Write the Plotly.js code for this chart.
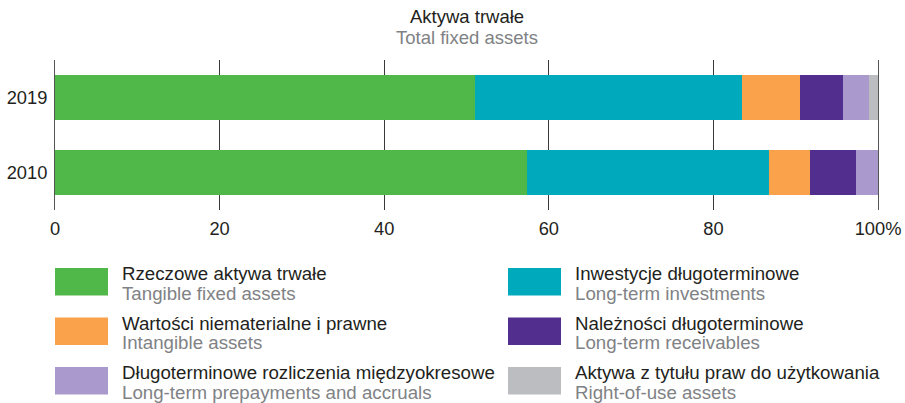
<!DOCTYPE html>
<html>
<head>
<meta charset="utf-8">
<script src="https://cdn.plot.ly/plotly-3.0.1.min.js"></script>
<style>html,body{margin:0;padding:0;background:#fff;}#chart{width:905px;height:403px;}</style>
</head>
<body>
<div id="chart"></div>
<script>
// ---- data ----
const years = ['2010', '2019'];
const seriesPL = ['Rzeczowe aktywa trwałe', 'Inwestycje długoterminowe', 'Wartości niematerialne i prawne', 'Należności długoterminowe', 'Długoterminowe rozliczenia międzyokresowe', 'Aktywa z tytułu praw do użytkowania'];
const seriesEN = ['Tangible fixed assets', 'Long-term investments', 'Intangible assets', 'Long-term receivables', 'Long-term prepayments and accruals', 'Right-of-use assets'];
const tangible = [57.4, 51.0];
const investments = [29.3, 32.5];
const intangible = [5.0, 7.0];
const receivables = [5.6, 5.2];
const prepayments = [2.7, 3.2];
const rightOfUse = [0.0, 1.1];
const xTickVals = [0, 20, 40, 60, 80, 100];
const xTickText = ['0', '20', '40', '60', '80', '100%'];
const titlePL = 'Aktywa trwałe';
const titleEN = 'Total fixed assets';

// ---- style ----
const colors = ['#50b848', '#00aabc', '#f9a24b', '#522e8f', '#a999cc', '#bcbdc0'];
const values = [tangible, investments, intangible, receivables, prepayments, rightOfUse];
const FONT = 'Liberation Sans, Arial, sans-serif';
const BLACK = '#231f20', GRAY = '#808285';

const M = {l: 55, r: 27, t: 60, b: 193};
const W = 905, H = 403;
const pw = W - M.l - M.r, ph = H - M.t - M.b;
const px = x => (x - M.l) / pw;
const py = y => (H - M.b - y) / ph;

const traces = values.map((v, i) => ({
  type: 'bar', orientation: 'h', x: v, y: years, name: seriesPL[i],
  marker: {color: colors[i], line: {width: 0}}, hoverinfo: 'skip'
}));

const shapes = [];
const annotations = [
  {text: titlePL, x: 0.5, xref: 'paper', y: py(16), yref: 'paper', xanchor: 'center', yanchor: 'middle', showarrow: false, font: {family: FONT, size: 18.5, color: BLACK}},
  {text: titleEN, x: 0.5, xref: 'paper', y: py(37), yref: 'paper', xanchor: 'center', yanchor: 'middle', showarrow: false, font: {family: FONT, size: 18.5, color: GRAY}}
];
// legend order: left column PL[0],PL[2],PL[4]; right column PL[1],PL[3],PL[5]
const legendOrder = [[0, 2, 4], [1, 3, 5]];
const colX = [55, 508];
const rowTop = [268, 317.5, 367];
legendOrder.forEach((col, c) => {
  col.forEach((si, r) => {
    const x0 = colX[c], y0 = rowTop[r];
    shapes.push({type: 'rect', xref: 'paper', yref: 'paper', x0: px(x0), x1: px(x0 + 53), y0: py(y0), y1: py(y0 + 27.5), fillcolor: colors[si], line: {width: 0}});
    annotations.push({text: seriesPL[si], x: px(x0 + 65), xref: 'paper', y: py(y0 + 5.5), yref: 'paper', xanchor: 'left', yanchor: 'middle', showarrow: false, font: {family: FONT, size: 18.7, color: BLACK}});
    annotations.push({text: seriesEN[si], x: px(x0 + 65), xref: 'paper', y: py(y0 + 25), yref: 'paper', xanchor: 'left', yanchor: 'middle', showarrow: false, font: {family: FONT, size: 18.7, color: GRAY}});
  });
});

const layout = {
  width: W, height: H, margin: M,
  paper_bgcolor: '#fff', plot_bgcolor: '#fff',
  barmode: 'stack', bargap: 0.387, showlegend: false,
  xaxis: {range: [0, 100], tickvals: xTickVals, ticktext: xTickText, showgrid: true, gridcolor: '#3a3a3a', gridwidth: 1,
    zeroline: false, showline: false, ticks: '', tickfont: {family: FONT, size: 18.3, color: BLACK}, ticklabelstandoff: 6, fixedrange: true},
  yaxis: {type: 'category', categoryorder: 'array', categoryarray: years, range: [-0.5, 1.5], showgrid: false, zeroline: false,
    showline: true, mirror: true, linecolor: '#555', linewidth: 1, ticks: '', tickfont: {family: FONT, size: 18.3, color: BLACK}, ticklabelstandoff: 3, fixedrange: true},
  shapes: shapes, annotations: annotations
};

Plotly.newPlot('chart', traces, layout, {displayModeBar: false, staticPlot: true});
</script>
</body>
</html>
